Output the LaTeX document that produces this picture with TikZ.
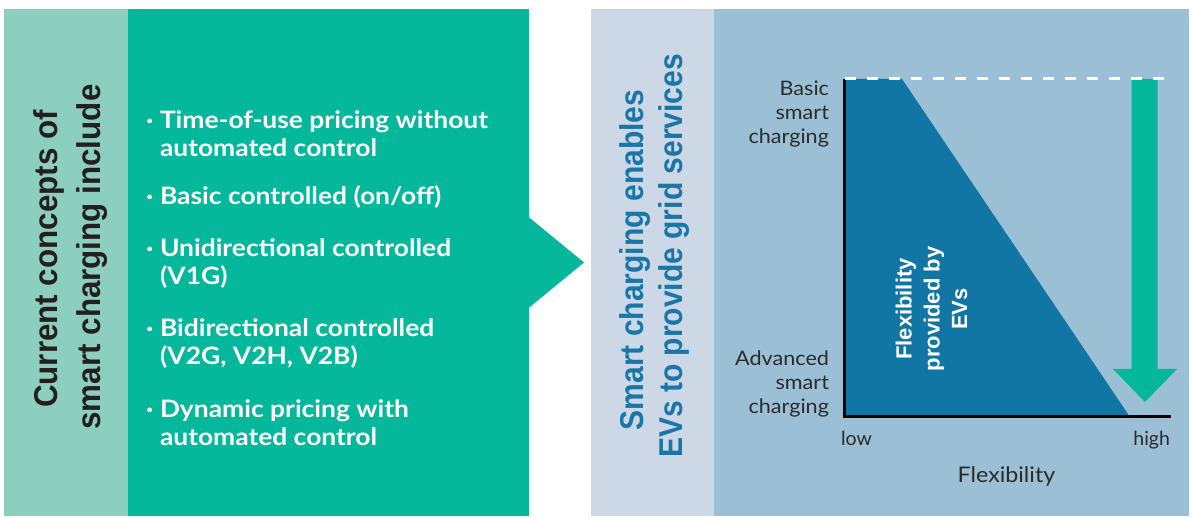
\documentclass[tikz,border=0pt]{standalone}
\usepackage{fontspec}
\setmainfont{Lato}
\newfontfamily\bulfont[FakeStretch=1.1]{Lato}
\newfontfamily\lblfont[FakeStretch=1.08]{Lato}
\newfontfamily\ltitlefont[FakeStretch=0.95]{Liberation Sans}
\newfontfamily\rtitlefont[FakeStretch=0.91]{Liberation Sans}
\newfontfamily\helvfont{Liberation Sans}
\definecolor{lteal}{HTML}{8CCFBF}
\definecolor{mteal}{HTML}{05B89C}
\definecolor{lblue}{HTML}{CCD8E6}
\definecolor{mblue}{HTML}{9BBFD4}
\definecolor{dblue}{HTML}{1276A5}
\definecolor{tblue}{HTML}{1A76A9}
\definecolor{tdark}{HTML}{231F20}
\definecolor{lbl}{HTML}{2B2B2B}
\begin{document}
\begin{tikzpicture}[x=1pt,y=-1pt,
  every node/.style={inner sep=0pt, outer sep=0pt},
  bultext/.style={font=\bulfont\bfseries\fontsize{24}{28}\selectfont, text=white, anchor=base west},
  buldot/.style={font=\bulfont\bfseries\fontsize{24}{28}\selectfont, text=white, anchor=base west},
  ltitle/.style={font=\ltitlefont\bfseries\fontsize{33}{40}\selectfont, text=tdark, rotate=90, anchor=base},
  rtitle/.style={font=\rtitlefont\bfseries\fontsize{33}{40}\selectfont, text=tblue, rotate=90, anchor=base},
  inner/.style={font=\helvfont\bfseries\fontsize{22}{26}\selectfont, text=white, rotate=90, anchor=base},
  ylab/.style={font=\lblfont\fontsize{20}{24}\selectfont, text=lbl, anchor=base east},
  xlab/.style={font=\fontsize{19.5}{24}\selectfont, text=lbl, anchor=base}
]
\useasboundingbox (0,0) rectangle (1192,518);
\fill[white] (0,0) rectangle (1192,518);
% panels
\fill[lteal] (4,9.5) rectangle (128,516);
\fill[mteal] (128,9.5) rectangle (528.5,516);
\fill[mteal] (528,216.5) -- (584,262.5) -- (528,308.5) -- cycle;
\fill[lblue] (591,9.5) rectangle (714,516);
\fill[mblue] (714,9.5) rectangle (1189,516);

% left title
\node[ltitle] (lt1) at (57,259) {Current concepts of};
\node[ltitle] (lt2) at (100,257) {smart charging include};

% bullets
\node[buldot] (d1) at (146,129) {·};
\node[bultext] (b1a) at (160,129) {Time-of-use pricing without};
\node[bultext] (b1b) at (160,157) {automated control};
\node[buldot] (d2) at (146,205) {·};
\node[bultext] (b2a) at (160,205) {Basic controlled (on/off)};
\node[buldot] (d3) at (146,257) {·};
\node[bultext] (b3a) at (160,257) {Unidirectional controlled};
\node[bultext] (b3b) at (160,285) {(V1G)};
\node[buldot] (d4) at (146,337) {·};
\node[bultext] (b4a) at (160,337) {Bidirectional controlled};
\node[bultext] (b4b) at (160,365) {(V2G, V2H, V2B)};
\node[buldot] (d5) at (146,418) {·};
\node[bultext] (b5a) at (160,418) {Dynamic pricing with};
\node[bultext] (b5b) at (160,446) {automated control};

% right title
\node[rtitle] (rt1) at (643,260) {Smart charging enables};
\node[rtitle] (rt2) at (682,256) {EVs to provide grid services};

% chart
\fill[dblue] (844,79) -- (902,79) -- (1130,417) -- (844,417) -- cycle;
\fill[mteal] (1131.5,79) -- (1157.5,79) -- (1157.5,369) -- (1177,369) -- (1145,402) -- (1113,369) -- (1131.5,369) -- cycle;
\draw[black, line width=3pt] (844,79) -- (844,417) -- (1171,417);
\draw[white, line width=3pt, dash pattern=on 11pt off 11pt] (845,79) -- (1171,79);

\node[inner] (f1) at (911.5,309) {Flexibility};
\node[inner] (f2) at (939.5,309) {provided by};
\node[inner] (f3) at (967,309) {EVs};

\node[ylab] (y1) at (829,96) {Basic};
\node[ylab] (y2) at (829,120) {smart};
\node[ylab] (y3) at (829,143.5) {charging};
\node[ylab] (y4) at (829,365.5) {Advanced};
\node[ylab] (y5) at (829,390) {smart};
\node[ylab] (y6) at (829,413.5) {charging};

\node[xlab, anchor=base west] (xlow) at (841,445.5) {low};
\node[xlab, anchor=base east] (xhigh) at (1170,445.5) {high};
\node[xlab, font=\lblfont\fontsize{21.5}{24}\selectfont] (xt) at (1006.5,482.5) {Flexibility};
\end{tikzpicture}
\end{document}
